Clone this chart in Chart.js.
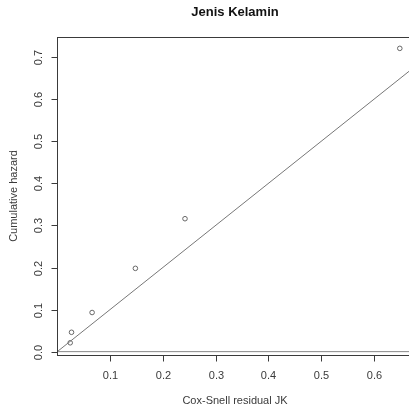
<!DOCTYPE html>
<html>
<head>
<meta charset="utf-8">
<script src="https://cdn.jsdelivr.net/npm/chart.js@4/dist/chart.umd.min.js"></script>
<style>
    html, body { margin: 0; padding: 0; background: #fff; overflow: hidden; }
    #wrap { width: 420px; height: 411px; }
</style>
</head>
<body>
<div id="wrap"><canvas id="coxSnell" width="420" height="411"></canvas></div>
<script>
// Dati
const residualX = [0.0245, 0.027, 0.066, 0.148, 0.242, 0.649];
const cumHazard = [0.021, 0.046, 0.093, 0.198, 0.316, 0.721];
const xTicks = [0.1, 0.2, 0.3, 0.4, 0.5, 0.6];
const yTicks = [0.0, 0.1, 0.2, 0.3, 0.4, 0.5, 0.6, 0.7];
const titleText = 'Jenis Kelamin';
const xTitle = 'Cox-Snell residual JK';
const yTitle = 'Cumulative hazard';

// limiti stile R (range dei dati + 4%)
const xMin = -0.0005, xMax = 0.674;
const yMin = -0.008, yMax = 0.748;

const FONT = '"Liberation Sans", Arial, sans-serif';
const INK = '#3a3a3a';

// Assi, box e testi disegnati alla maniera di R
const rAxes = {
    id: 'rAxes',
    afterDraw(chart) {
        const { ctx, chartArea: a, scales: { x, y } } = chart;
        ctx.save();
        ctx.strokeStyle = INK;
        ctx.lineWidth = 1;
        ctx.strokeRect(Math.round(a.left) + 0.5, Math.round(a.top) + 0.5,
            Math.round(a.right - a.left), Math.round(a.bottom - a.top));

        ctx.fillStyle = INK;
        ctx.font = '11px ' + FONT;
        // asse x
        ctx.textAlign = 'center';
        ctx.textBaseline = 'middle';
        const xb = Math.round(a.bottom) + 0.5;
        xTicks.forEach(v => {
            const px = Math.round(x.getPixelForValue(v)) + 0.5;
            ctx.beginPath();
            ctx.moveTo(px, xb);
            ctx.lineTo(px, xb + 6);
            ctx.stroke();
            ctx.fillText(v.toFixed(1), px, 376);
        });
        // asse y (etichette verticali)
        const yl = Math.round(a.left) + 0.5;
        yTicks.forEach(v => {
            const py = Math.round(y.getPixelForValue(v)) + 0.5;
            ctx.beginPath();
            ctx.moveTo(yl, py);
            ctx.lineTo(yl - 6, py);
            ctx.stroke();
            ctx.save();
            ctx.translate(39, py);
            ctx.rotate(-Math.PI / 2);
            ctx.fillText(v.toFixed(1), 0, 0);
            ctx.restore();
        });

        // titoli
        ctx.fillText(xTitle, (a.left + a.right) / 2, 401);
        ctx.save();
        ctx.translate(14, (a.top + a.bottom) / 2);
        ctx.rotate(-Math.PI / 2);
        ctx.fillText(yTitle, 0, 0);
        ctx.restore();

        ctx.fillStyle = '#111';
        ctx.font = 'bold 13px ' + FONT;
        ctx.fillText(titleText, (a.left + a.right) / 2, 12);
        ctx.restore();
    }
};

const ctx = document.getElementById('coxSnell').getContext('2d');
new Chart(ctx, {
    type: 'scatter',
    data: {
        datasets: [
            {
                // abline(h = 0)
                type: 'line',
                data: [{ x: xMin, y: 0 }, { x: xMax, y: 0 }],
                borderColor: '#888',
                borderWidth: 1,
                pointRadius: 0,
                fill: false
            },
            {
                // abline(0, 1)
                type: 'line',
                data: [{ x: xMin, y: xMin }, { x: xMax, y: xMax }],
                borderColor: '#777',
                borderWidth: 1,
                pointRadius: 0,
                fill: false
            },
            {
                data: residualX.map((v, i) => ({ x: v, y: cumHazard[i] })),
                backgroundColor: 'rgba(0,0,0,0)',
                borderColor: '#666',
                borderWidth: 1,
                pointRadius: 2.3
            }
        ]
    },
    options: {
        responsive: false,
        animation: false,
        devicePixelRatio: 1,
        layout: { padding: { left: 57, top: 37, right: 7, bottom: 56 } },
        plugins: {
            legend: { display: false },
            tooltip: { enabled: false }
        },
        scales: {
            x: { type: 'linear', min: xMin, max: xMax, display: false },
            y: { type: 'linear', min: yMin, max: yMax, display: false }
        }
    },
    plugins: [rAxes]
});
</script>
</body>
</html>
